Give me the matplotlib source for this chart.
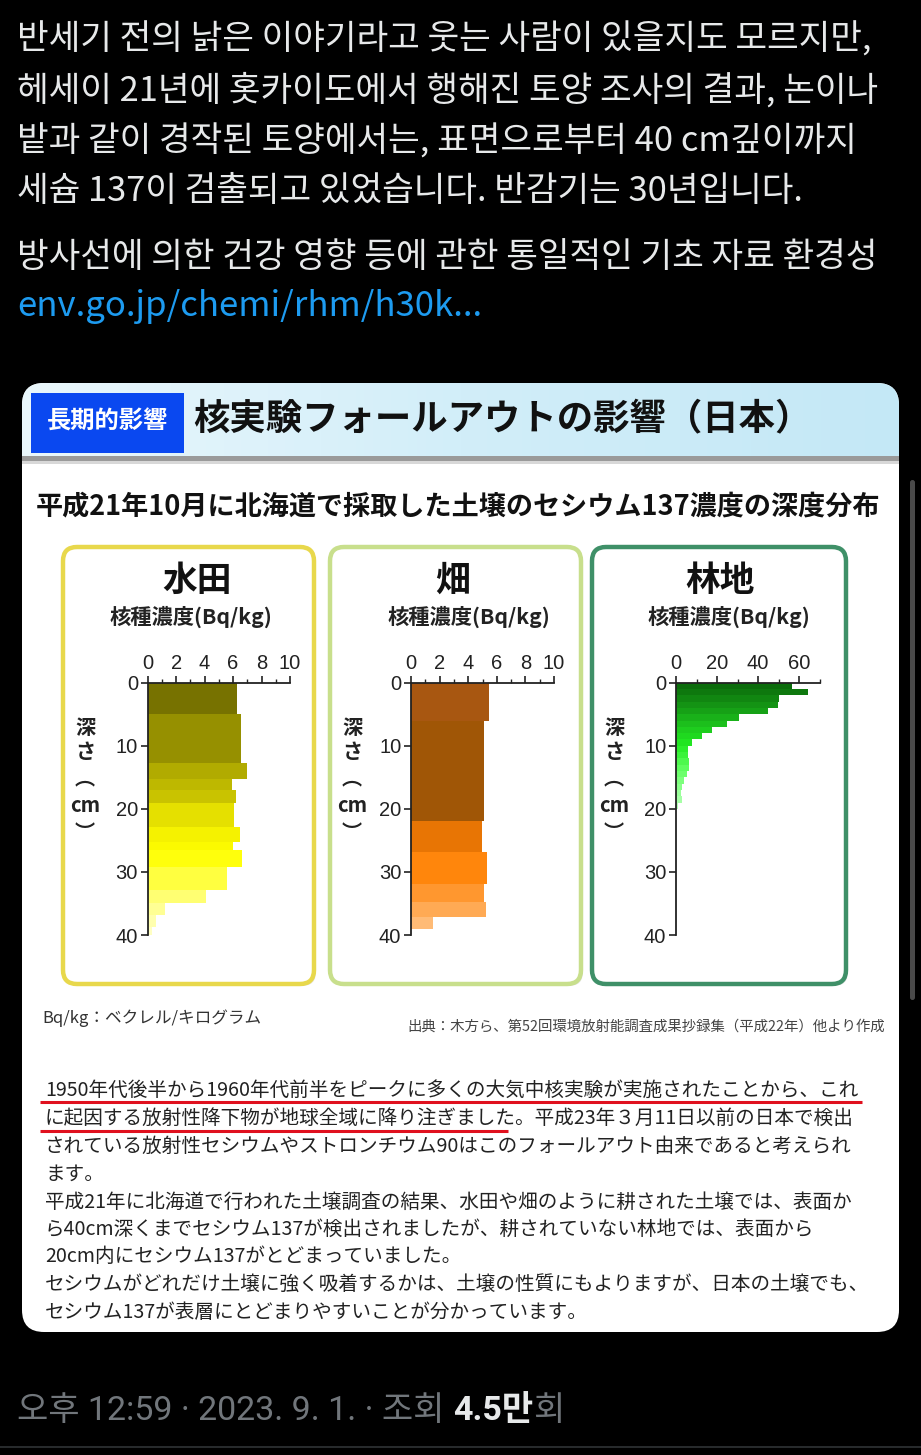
import matplotlib
matplotlib.use('Agg')
import matplotlib.pyplot as plt
from matplotlib.patches import FancyBboxPatch, Rectangle
from matplotlib.colors import LinearSegmentedColormap
from matplotlib.ticker import MultipleLocator
import numpy as np

# ---------------- data ----------------
paddy_depth_edges = [0, 5, 12.8, 15.2, 17, 19.1, 22.8, 25.2, 26.5, 29.2, 32.9, 35, 36.9, 38.7, 40]
paddy_bq = [6.3, 6.55, 7.0, 5.95, 6.2, 6.05, 6.5, 6.0, 6.65, 5.55, 4.1, 1.2, 0.6, 0.3]

field_depth_edges = [0, 6, 22, 26.8, 31.9, 34.8, 37.2, 39.1]
field_bq = [5.48, 5.13, 4.97, 5.29, 5.13, 5.22, 1.52]

forest_depth_edges = list(range(0, 21))
forest_bq = [56.4, 64.2, 50.0, 49.6, 44.7, 30.7, 25.0, 17.7, 12.8, 7.6,
             6.0, 5.7, 6.3, 6.5, 5.2, 4.1, 3.1, 2.3, 2.8, 1.1]

panel_titles = ['水田', '畑', '林地']
x_ticks_small = [0, 2, 4, 6, 8, 10]
x_ticks_forest = [0, 20, 40, 60]
y_ticks = [0, 10, 20, 30, 40]

tweet_lines = [
    '반세기 전의 낡은 이야기라고 웃는 사람이 있을지도 모르지만,',
    '헤세이 21년에 홋카이도에서 행해진 토양 조사의 결과, 논이나',
    '밭과 같이 경작된 토양에서는, 표면으로부터 40 cm깊이까지',
    '세슘 137이 검출되고 있었습니다. 반감기는 30년입니다.',
]
tweet_line5 = '방사선에 의한 건강 영향 등에 관한 통일적인 기초 자료 환경성'
tweet_link = 'env.go.jp/chemi/rhm/h30k...'

jp_lines = [
    '1950年代後半から1960年代前半をピークに多くの大気中核実験が実施されたことから、これ',
    'に起因する放射性降下物が地球全域に降り注ぎました。平成23年３月11日以前の日本で検出',
    'されている放射性セシウムやストロンチウム90はこのフォールアウト由来であると考えられ',
    'ます。',
    '平成21年に北海道で行われた土壌調査の結果、水田や畑のように耕された土壌では、表面か',
    'ら40cm深くまでセシウム137が検出されましたが、耕されていない林地では、表面から',
    '20cm内にセシウム137がとどまっていました。',
    'セシウムがどれだけ土壌に強く吸着するかは、土壌の性質にもよりますが、日本の土壌でも、',
    'セシウム137が表層にとどまりやすいことが分かっています。',
]

W, H = 921, 1455
KR = ['Noto Sans CJK KR', 'DejaVu Sans']
KR_FOOT = ['Roboto', 'Noto Sans CJK KR']
JP = ['Noto Sans CJK JP', 'DejaVu Sans']
LAT = ['Liberation Sans', 'DejaVu Sans']

fig = plt.figure(figsize=(9.21, 14.55), dpi=100, facecolor='black')
bg = fig.add_axes([0, 0, 1, 1])
bg.set_xlim(0, W)
bg.set_ylim(H, 0)
bg.axis('off')
bg.set_facecolor('black')

# ---------------- tweet text ----------------
ys = [40, 91, 142, 192]
for t, y in zip(tweet_lines, ys):
    bg.text(17, y, t, family=KR, fontsize=24.8, color='#e7e9ea', va='center', ha='left')
bg.text(17, 258, tweet_line5, family=KR, fontsize=24.8, color='#e7e9ea', va='center', ha='left')
bg.text(17, 307, tweet_link, family=KR, fontsize=25, color='#1d9bf0', va='center', ha='left')

# ---------------- card ----------------
card = FancyBboxPatch((22, 383), 877, 949, boxstyle='round,pad=0,rounding_size=22',
                      facecolor='white', edgecolor='none', zorder=1)
bg.add_patch(card)

# header gradient
grad = np.linspace(0, 1, 100).reshape(1, -1)
cmap_head = LinearSegmentedColormap.from_list('h', ['#eaf7fc', '#d2eef9', '#c4e8f6'])
im = bg.imshow(grad, extent=(22, 899, 458, 383), cmap=cmap_head, aspect='auto', zorder=2)
im.set_clip_path(card)
bg.add_patch(Rectangle((22, 456), 877, 5, facecolor='#9a9a9a', edgecolor='none', zorder=3))
bg.add_patch(Rectangle((22, 461), 877, 3, facecolor='#d8d8d8', edgecolor='none', zorder=3))
bg.add_patch(Rectangle((31, 393), 153, 60, facecolor='#0a48f0', edgecolor='none', zorder=3))
bg.text(107, 422, '長期的影響', family=JP, fontsize=17.5, weight='bold', color='white',
        va='center', ha='center', zorder=4)
bg.text(193, 420, '核実験フォールアウトの影響（日本）', family=JP, fontsize=26.2, weight='bold',
        color='#111111', va='center', ha='left', zorder=4)

bg.text(458, 506, '平成21年10月に北海道で採取した土壌のセシウム137濃度の深度分布', family=JP,
        fontsize=19.5, weight='bold', color='#111111', va='center', ha='center', zorder=4)

# panels
panels = [(63, 314, '#e8d84c', 197, 191), (330, 581, '#c8df8c', 453, 469), (592, 846, '#3f9068', 720, 729)]
for (x0, x1, col, tx, sx), title in zip(panels, panel_titles):
    bg.add_patch(FancyBboxPatch((x0 + 2, 549), x1 - x0, 437, boxstyle='round,pad=0,rounding_size=14',
                                facecolor='#e6e6e6', edgecolor='none', zorder=2))
    bg.add_patch(FancyBboxPatch((x0, 547), x1 - x0, 437, boxstyle='round,pad=0,rounding_size=14',
                                facecolor='white', edgecolor=col, linewidth=3.2, zorder=3))
    bg.text(tx, 580, title, family=JP, fontsize=25, weight='bold', color='#111111',
            va='center', ha='center', zorder=4)
    bg.text(sx, 617, '核種濃度(Bq/kg)', family=JP, fontsize=15.3, weight='bold', color='#222222',
            va='center', ha='center', zorder=4)
    ylx = x0 + 22
    for ch, yy in [('深', 728), ('さ', 751), ('︵', 778), ('cm', 806), ('︶', 832)]:
        bg.text(ylx, yy, ch, family=JP, fontsize=14.5, weight='bold', color='#222222',
                va='center', ha='center', zorder=4)

# ---------------- charts ----------------
def px_axes(x0, x1, y0, y1):
    return fig.add_axes([x0 / W, 1 - y1 / H, (x1 - x0) / W, (y1 - y0) / H])

def make_cmap(stops):
    return LinearSegmentedColormap.from_list('c', stops)

cm_paddy = make_cmap([(0, '#6a6600'), (0.3, '#a6a000'), (0.45, '#c9c300'), (0.55, '#eeea00'),
                      (0.68, '#ffff00'), (0.8, '#ffff50'), (0.92, '#ffffa0'), (1, '#ffffcc')])
cm_field = make_cmap([(0, '#c4651c'), (0.15, '#8c4806'), (0.35, '#a05606'), (0.55, '#d86e06'),
                      (0.7, '#ff8000'), (0.85, '#ff9a34'), (1, '#ffc890')])
cm_forest = make_cmap([(0, '#0a660a'), (0.08, '#138f13'), (0.16, '#1cbf1c'), (0.25, '#22ec22'),
                       (0.35, '#66ff66'), (0.5, '#bbffbb'), (1, '#eeffee')])

charts = [
    (147.7, 290, paddy_depth_edges, paddy_bq, cm_paddy, 10, x_ticks_small, 1),
    (411, 554, field_depth_edges, field_bq, cm_field, 10, x_ticks_small, 1),
    (676, 819.5, forest_depth_edges, forest_bq, cm_forest, 70, x_ticks_forest, 10),
]
for x0, x1, edges, vals, cmap, xmax, xt, minor in charts:
    ax = px_axes(x0, x1, 682.7, 935)
    ax.set_zorder(5)
    ax.patch.set_alpha(0)
    edges = np.asarray(edges, dtype=float)
    tops = edges[:-1]
    heights = np.diff(edges)
    mids = tops + heights / 2
    colors = [cmap(m / 40.0) for m in mids]
    ax.barh(tops, vals, height=heights, align='edge', color=colors, edgecolor='none')
    ax.set_xlim(0, xmax)
    ax.set_ylim(40, 0)
    ax.xaxis.tick_top()
    ax.set_xticks(xt)
    ax.xaxis.set_minor_locator(MultipleLocator(minor))
    ax.set_yticks(y_ticks)
    for s in ['right', 'bottom']:
        ax.spines[s].set_visible(False)
    for s in ['left', 'top']:
        ax.spines[s].set_linewidth(1.3)
        ax.spines[s].set_color('#222222')
    ax.tick_params(axis='x', which='major', length=5, width=1.2, pad=2, labelsize=14.5, colors='#222222')
    ax.tick_params(axis='x', which='minor', length=3, width=1.0, colors='#222222')
    ax.tick_params(axis='y', which='major', length=5, width=1.2, pad=2, labelsize=14.5, colors='#222222')
    for lab in ax.get_xticklabels() + ax.get_yticklabels():
        lab.set_family(LAT)

# ---------------- card footer text ----------------
bg.text(42, 1018, 'Bq/kg：ベクレル/キログラム', family=JP, fontsize=12, color='#333333',
        va='center', ha='left', zorder=4)
bg.text(885, 1027, '出典：木方ら、第52回環境放射能調査成果抄録集（平成22年）他より作成', family=JP,
        fontsize=10.4, color='#444444', va='center', ha='right', zorder=4)

jp_ys = [1090, 1118, 1146, 1174, 1202, 1229, 1257, 1285, 1313]
for t, y in zip(jp_lines, jp_ys):
    bg.text(45, y, t, family=JP, fontsize=14.1, color='#222222', va='center', ha='left', zorder=4)
bg.plot([40, 862], [1102, 1102], color='#e0101e', lw=2.2, zorder=5, solid_capstyle='butt')
bg.plot([40, 508], [1131, 1131], color='#e0101e', lw=2.2, zorder=5, solid_capstyle='butt')

# scrollbar
bg.add_patch(FancyBboxPatch((910, 480), 5, 520, boxstyle='round,pad=0,rounding_size=2.5',
                            facecolor='#4a4a4a', edgecolor='none', zorder=2))

# ---------------- tweet footer ----------------
fig.canvas.draw()
r = fig.canvas.get_renderer()
inv = bg.transData.inverted()
x = 17
parts = [('오후 12:59 · 2023. 9. 1. · 조회 ', '#71767b', 'normal'),
         ('4.5만', '#e7e9ea', 'bold'), ('회', '#71767b', 'normal')]
for s, c, w in parts:
    t = bg.text(x, 1411, s, family=KR_FOOT, fontsize=24.5, color=c, weight=w, va='center', ha='left')
    bb = t.get_window_extent(renderer=r)
    x = inv.transform((bb.x1, bb.y0))[0]
bg.plot([0, W], [1447, 1447], color='#2f3336', lw=1.2)

fig.savefig('out.png', dpi=100, facecolor='black')
